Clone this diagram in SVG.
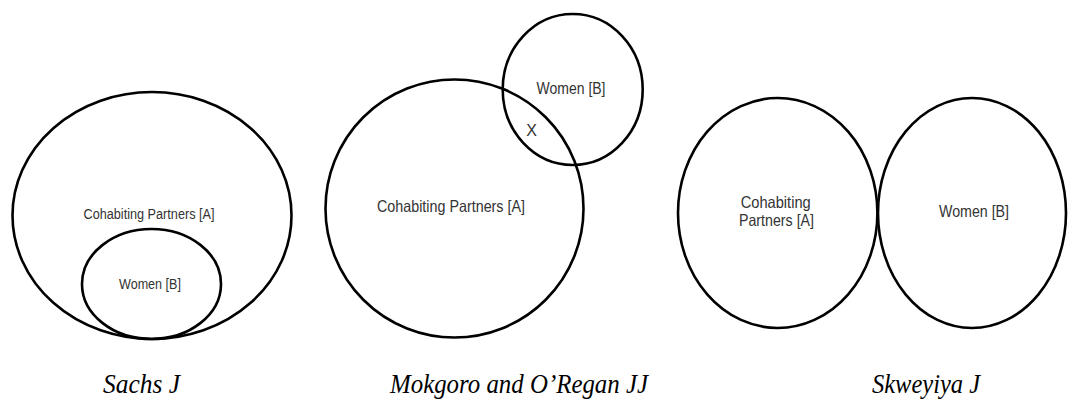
<svg xmlns="http://www.w3.org/2000/svg" width="1068" height="403" viewBox="0 0 1068 403">
<style>
.set{fill:none;stroke:#000;stroke-width:2.6}
.lbl{font-family:"Liberation Sans",Arial,sans-serif;fill:#333;text-anchor:middle}
.cap{font-family:"Liberation Serif","Times New Roman",serif;font-style:italic;font-size:27px;fill:#000}
</style>
<rect width="1068" height="403" fill="#fff"/>
<g id="sachs">
<ellipse class="set" cx="152" cy="215.5" rx="139.5" ry="123.5"/>
<ellipse class="set" cx="151.5" cy="284" rx="69.5" ry="55"/>
<text class="lbl" x="149" y="219" font-size="15.5" textLength="131" lengthAdjust="spacingAndGlyphs">Cohabiting Partners [A]</text>
<text class="lbl" x="150" y="289" font-size="15.5" textLength="62" lengthAdjust="spacingAndGlyphs">Women [B]</text>
</g>
<g id="mokgoro">
<circle class="set" cx="454.5" cy="208.5" r="129"/>
<ellipse class="set" cx="572.7" cy="89.5" rx="70" ry="75.5"/>
<text class="lbl" x="451" y="212" font-size="16.5" textLength="148" lengthAdjust="spacingAndGlyphs">Cohabiting Partners [A]</text>
<text class="lbl" x="571" y="94" font-size="16.5" textLength="69" lengthAdjust="spacingAndGlyphs">Women [B]</text>
<text class="lbl" x="531.7" y="136" font-size="16">X</text>
</g>
<g id="skweyiya">
<ellipse class="set" cx="777.7" cy="213" rx="99.7" ry="115"/>
<ellipse class="set" cx="972" cy="213" rx="94" ry="115"/>
<text class="lbl" x="775.7" y="208" font-size="16.5" textLength="70" lengthAdjust="spacingAndGlyphs">Cohabiting</text>
<text class="lbl" x="776.5" y="225.5" font-size="16.5" textLength="75" lengthAdjust="spacingAndGlyphs">Partners [A]</text>
<text class="lbl" x="974" y="217" font-size="16.5" textLength="70" lengthAdjust="spacingAndGlyphs">Women [B]</text>
</g>
<g id="captions">
<text class="cap" x="103" y="393" textLength="77" lengthAdjust="spacingAndGlyphs">Sachs J</text>
<text class="cap" x="390" y="393" textLength="258" lengthAdjust="spacingAndGlyphs">Mokgoro and O’Regan JJ</text>
<text class="cap" x="872" y="393" textLength="108" lengthAdjust="spacingAndGlyphs">Skweyiya J</text>
</g>
<g id="connectors"/>
</svg>
